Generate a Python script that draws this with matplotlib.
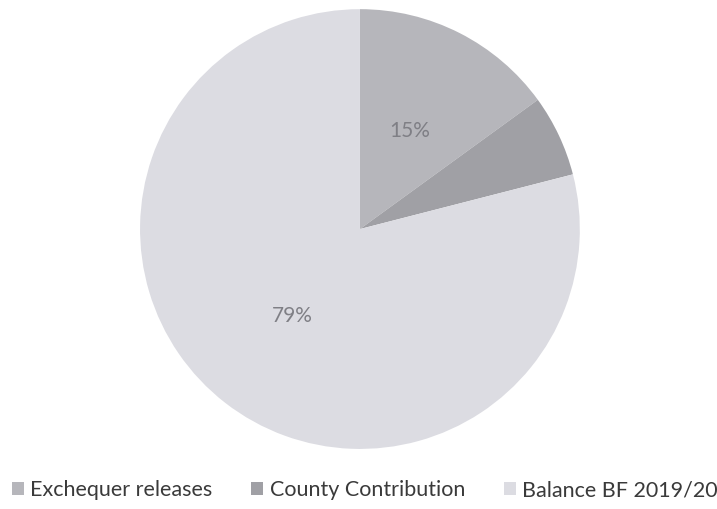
import matplotlib.pyplot as plt

# pie data
categories = ["Exchequer releases", "County Contribution", "Balance BF 2019/20"]
shares = [15, 6, 79]
colors = ["#b6b6bb", "#a0a0a5", "#dcdce2"]

plt.rcParams['font.family'] = ['Lato', 'DejaVu Sans']

fig = plt.figure(figsize=(7.17, 5.09), dpi=100)
ax = fig.add_axes([0.195, 0.118, 0.614, 0.864])


def pct_label(p):
    # the small slice carries no label in the original
    return f"{p:.0f}%" if p >= 10 else ""


wedges, texts, autotexts = ax.pie(
    shares, colors=colors, startangle=90, counterclock=False,
    autopct=pct_label, pctdistance=0.5, radius=1,
    textprops={"color": "#7f7f85", "fontsize": 15},
)
ax.set_xlim(-1, 1)
ax.set_ylim(-1, 1)
ax.set_aspect("equal")

leg = fig.legend(
    wedges, categories, loc="center left", bbox_to_anchor=(0.008, 0.037),
    ncol=3, frameon=False, fontsize=15.5, handlelength=0.55, handleheight=0.55,
    handletextpad=0.3, columnspacing=1.8, borderaxespad=0, borderpad=0.3,
)
for t in leg.get_texts():
    t.set_color("#3a3a3a")

fig.savefig("out.png", dpi=100)
